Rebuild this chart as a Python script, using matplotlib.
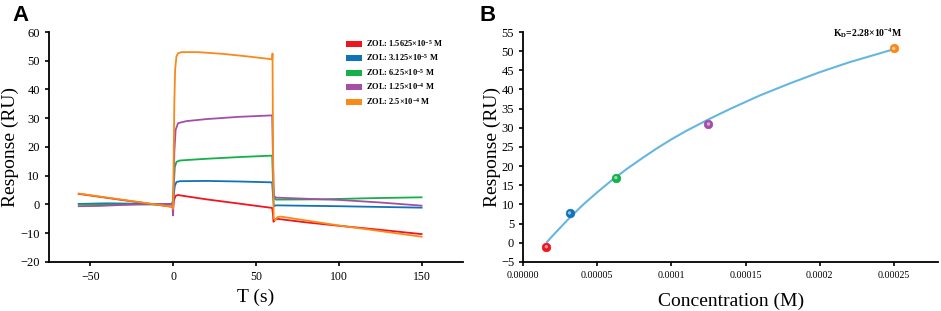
import matplotlib
matplotlib.use("Agg")
import matplotlib.pyplot as plt
from matplotlib.patches import Patch

plt.rcParams['font.family'] = ['Liberation Serif', 'DejaVu Serif']
plt.rcParams['mathtext.fontset'] = 'custom'
plt.rcParams['mathtext.rm'] = 'Liberation Serif'
plt.rcParams['mathtext.bf'] = 'Liberation Serif:bold'
plt.rcParams['mathtext.it'] = 'Liberation Serif:italic'

# ---------------- data: panel A (sensorgrams) ----------------
series_labels = [
    r'ZOL: 1.5625×10$^{\mathbf{-5}}$ M',
    r'ZOL: 3.125×10$^{\mathbf{-5}}$ M',
    r'ZOL: 6.25×10$^{\mathbf{-5}}$ M',
    r'ZOL: 1.25×10$^{\mathbf{-4}}$ M',
    r'ZOL: 2.5×10$^{\mathbf{-4}}$ M',
]
series_colors = ['#F0141E', '#1072B8', '#14B04A', '#A44EA8', '#F98A1A']

red_t = [-57, -30, -2, -0.5, 0, 0.5, 1.5, 3, 5, 20, 40, 59.8, 60.2, 60.6, 61.5, 63, 80, 100, 125, 150]
red_v = [3.7, 1.5, -0.7, -0.8, -1.0, 1.5, 3.0, 3.3, 3.1, 1.8, 0.3, -1.2, -3.0, -6.0, -5.2, -5.0, -6.2, -7.4, -8.8, -10.3]

blue_t = [-57, -40, -2, -0.3, 0.5, 1, 2, 4, 20, 40, 59.8, 60.3, 60.8, 62, 100, 150]
blue_v = [0.2, 0.4, 0.1, 0.5, 4, 6.5, 7.8, 8.1, 8.2, 8.0, 7.7, 3.0, -0.6, -0.3, -0.6, -1.1]

green_t = [-57, -2, -0.3, 0.5, 1, 2, 4, 20, 40, 59.8, 60.3, 60.8, 62, 90, 120, 150]
green_v = [0.0, 0.0, 0.3, 8, 13, 14.8, 15.3, 15.9, 16.5, 17.0, 8, 2.3, 1.7, 1.8, 2.2, 2.5]

purple_t = [-57, -45, -20, -2, -0.5, 0, 0.3, 0.7, 1.5, 3, 8, 20, 40, 59.8, 60.3, 60.8, 62, 80, 100, 125, 150]
purple_v = [-0.6, -0.5, 0.1, 0.2, 0.0, -3.8, 5, 18, 26, 28.3, 29.0, 29.7, 30.5, 31.0, 15, 3.0, 2.4, 2.0, 1.6, 0.7, -0.4]

orange_t = [-57, -1.5, -0.5, 0, 0.3, 0.7, 1.2, 2, 3, 5, 15, 30, 45, 59.8, 60.0, 60.3, 60.7, 61.5, 63, 65, 100, 150]
orange_v = [3.8, -0.7, -0.8, -1.5, 15, 35, 47, 51.5, 52.6, 53.0, 53.0, 52.4, 51.5, 50.5, 52.5, 20, -4.5, -5.5, -4.4, -4.2, -7.3, -11.2]

series_t = [red_t, blue_t, green_t, purple_t, orange_t]
series_v = [red_v, blue_v, green_v, purple_v, orange_v]

a_xticks = [-50, 0, 50, 100, 150]
a_yticks = [-20, -10, 0, 10, 20, 30, 40, 50, 60]

# ---------------- data: panel B (affinity) ----------------
conc = [1.5625e-5, 3.125e-5, 6.25e-5, 1.25e-4, 2.5e-4]
resp = [-1.0, 7.8, 17.0, 31.0, 50.7]

fit_x = [1.6e-5, 2e-5, 3e-5, 4e-5, 5e-5, 6e-5, 7e-5, 8e-5, 9e-5, 1e-4, 1.1e-4,
         1.25e-4, 1.4e-4, 1.6e-4, 1.8e-4, 2e-4, 2.2e-4, 2.5e-4]
fit_y = [0.2, 1.9, 6.0, 9.8, 13.2, 16.4, 19.3, 22.0, 24.6, 27.0, 29.2,
         32.2, 35.0, 38.5, 41.6, 44.5, 47.1, 50.5]

b_xticks = [0.0, 0.00005, 0.0001, 0.00015, 0.0002, 0.00025]
b_xticklabels = ['0.00000', '0.00005', '0.0001', '0.00015', '0.0002', '0.00025']
b_yticks = [-5, 0, 5, 10, 15, 20, 25, 30, 35, 40, 45, 50, 55]

# ---------------- figure ----------------
fig = plt.figure(figsize=(9.41, 3.11), dpi=100)
axA = fig.add_axes([0.052, 0.1576, 0.440, 0.7395])
axB = fig.add_axes([0.556, 0.1576, 0.441, 0.7395])

def style(ax):
    for s in ['top', 'right']:
        ax.spines[s].set_visible(False)
    for s in ['left', 'bottom']:
        ax.spines[s].set_linewidth(1.3)
        ax.spines[s].set_color('black')
    ax.tick_params(direction='out', length=3, width=1.2, colors='black')

for t, v, c in zip(series_t, series_v, series_colors):
    axA.plot(t, v, color=c, lw=1.3, solid_joinstyle='round')

axA.set_xlim(-75, 175)
axA.set_ylim(-20, 60)
axA.set_xticks(a_xticks)
axA.set_yticks(a_yticks)
axA.tick_params(axis='x', labelsize=8.5)
axA.tick_params(axis='y', labelsize=9)
style(axA)
axA.set_xlabel('T (s)', fontsize=14, labelpad=4)
axA.set_ylabel('Response (RU)', fontsize=14, labelpad=1)

handles = [Patch(facecolor=c, edgecolor='none') for c in series_colors]
leg = axA.legend(handles, series_labels, loc='upper left', bbox_to_anchor=(0.718, 0.975),
                 frameon=False, prop={'size': 6.0, 'weight': 'bold'},
                 handlelength=1.9, handleheight=0.7, handletextpad=0.5,
                 labelspacing=0.42, borderpad=0, borderaxespad=0)

axB.plot(fit_x, fit_y, color='#66B6E2', lw=1.5, zorder=2)
for x, y, c in zip(conc, resp, series_colors):
    axB.scatter([x], [y], s=38, color=c, edgecolor=c, linewidth=0.5, zorder=3)
    axB.scatter([x], [y], s=6, color='white', alpha=0.55, edgecolor='none', zorder=4)

axB.set_xlim(0, 0.00028)
axB.set_ylim(-5, 55)
axB.set_xticks(b_xticks)
axB.set_xticklabels(b_xticklabels)
axB.set_yticks(b_yticks)
axB.tick_params(axis='x', labelsize=7.2)
axB.tick_params(axis='y', labelsize=9)
style(axB)
axB.set_xlabel('Concentration (M)', fontsize=14, labelpad=9)
axB.set_ylabel('Response (RU)', fontsize=14, labelpad=0)
axB.text(0.000209, 54.6, r'$\mathbf{K_D}$=2.28×10$^{\mathbf{-4}}$M', fontsize=7,
         fontweight='bold', va='center', ha='left')

fig.text(0.013, 0.985, 'A', fontsize=16, fontweight='bold', family='Liberation Sans', va='top')
fig.text(0.510, 0.985, 'B', fontsize=16, fontweight='bold', family='Liberation Sans', va='top')

fig.savefig('out.png', dpi=100)
